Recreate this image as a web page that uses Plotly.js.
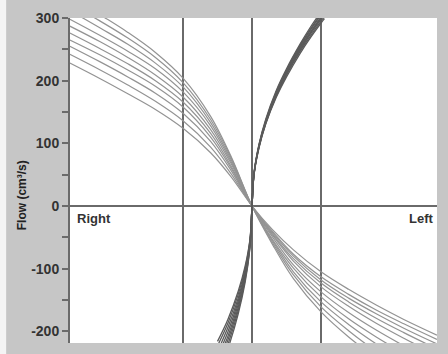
<!DOCTYPE html>
<html>
<head>
<meta charset="utf-8">
<script src="https://cdn.plot.ly/plotly-3.0.1.min.js"></script>
<style>html,body{margin:0;padding:0;background:#fff;}#chart{width:448px;height:354px;}</style>
</head>
<body>
<div id="chart"></div>
<script>
// Pressure axis samples (arbitrary units, marker lines at -1, 0, 1)
const xDesc = [-2.64, -2.2, -1.8, -1.4, -1, -0.6, -0.3, 0, 0.3, 0.6, 1, 1.4, 1.8, 2.2, 2.68];
const desc0 = [335, 305, 277, 245, 204, 143, 78, 0, -62, -116, -169, -209, -243, -274, -308];
const desc1 = [323, 295, 268, 237, 197, 138, 76, 0, -59, -110, -161, -199, -232, -261, -293];
const desc2 = [312, 284, 258, 228, 190, 133, 73, 0, -56, -105, -153, -189, -220, -248, -279];
const desc3 = [298, 272, 247, 219, 182, 128, 70, 0, -54, -99, -145, -180, -209, -235, -264];
const desc4 = [287, 262, 237, 209, 174, 122, 67, 0, -50, -94, -137, -170, -198, -223, -251];
const desc5 = [276, 251, 227, 200, 166, 116, 63, 0, -47, -88, -129, -160, -187, -211, -238];
const desc6 = [265, 241, 217, 191, 158, 110, 60, 0, -45, -84, -123, -153, -179, -202, -228];
const desc7 = [255, 230, 206, 180, 148, 103, 56, 0, -43, -80, -118, -147, -172, -195, -220];
const desc8 = [242, 217, 193, 167, 136, 94, 51, 0, -41, -77, -113, -141, -166, -188, -213];
const desc9 = [228, 203, 179, 154, 124, 85, 46, 0, -38, -70, -105, -133, -158, -181, -206];

const xAsc = [-0.5, -0.35, -0.2, -0.1, -0.03, 0, 0.03, 0.1, 0.2, 0.35, 0.5, 0.7, 0.85, 1.0, 1.05];
const asc0 = [-216, -181, -136, -96, -53, 0, 51, 92, 131, 173, 206, 244, 269, 292, 299];
const asc1 = [-223, -187, -141, -100, -55, 0, 51, 93, 132, 175, 209, 247, 272, 295, 302];
const asc2 = [-232, -194, -147, -104, -57, 0, 52, 94, 133, 176, 211, 249, 275, 298, 305];
const asc3 = [-240, -201, -152, -107, -59, 0, 52, 95, 134, 178, 212, 251, 277, 300, 308];
const asc4 = [-248, -208, -157, -111, -61, 0, 52, 95, 135, 179, 214, 253, 278, 302, 310];
const asc5 = [-256, -214, -162, -114, -63, 0, 53, 96, 136, 181, 216, 255, 281, 305, 313];
const asc6 = [-264, -221, -167, -118, -65, 0, 53, 97, 137, 182, 217, 257, 283, 307, 315];
const asc7 = [-272, -228, -172, -122, -67, 0, 54, 98, 139, 184, 219, 259, 286, 310, 318];

const yTickVals = [300, 200, 100, 0, -100, -200];
const yTickText = ["300", "200", "100", "0", "-100", "-200"];
const markerX = [-1, 0, 1];

const descSeries = [desc0, desc1, desc2, desc3, desc4, desc5, desc6, desc7, desc8, desc9];
const ascSeries = [asc0, asc1, asc2, asc3, asc4, asc5, asc6, asc7];

const traces = [];
descSeries.forEach(ys => traces.push({
  x: xDesc, y: ys, type: 'scatter', mode: 'lines',
  line: {color: '#939393', width: 1.2, shape: 'spline', smoothing: 1},
  hoverinfo: 'skip', showlegend: false
}));
ascSeries.forEach(ys => traces.push({
  x: xAsc, y: ys, type: 'scatter', mode: 'lines',
  line: {color: '#5a5a5a', width: 1.3, shape: 'spline', smoothing: 1},
  hoverinfo: 'skip', showlegend: false
}));

const layout = {
  width: 448, height: 354,
  margin: {l: 70, r: 11, t: 18, b: 11},
  paper_bgcolor: '#c6c6c6',
  plot_bgcolor: '#ffffff',
  showlegend: false,
  xaxis: {
    range: [-2.638, 2.681],
    tickvals: markerX,
    showticklabels: false,
    ticks: '',
    showgrid: true, gridcolor: '#6a6a6a', gridwidth: 2,
    zeroline: true, zerolinecolor: '#6a6a6a', zerolinewidth: 2,
    showline: false, fixedrange: true
  },
  yaxis: {
    range: [-218.6, 300],
    tickvals: yTickVals, ticktext: yTickText,
    ticks: 'outside', ticklen: 6, tickwidth: 2, tickcolor: '#6a6a6a',
    minor: {dtick: 50, tick0: 0, ticks: 'outside', ticklen: 6, tickwidth: 2, tickcolor: '#6a6a6a', showgrid: false},
    tickfont: {family: 'Liberation Sans, Arial, sans-serif', size: 14, color: '#333333', weight: 'bold'},
    showgrid: false,
    zeroline: true, zerolinecolor: '#6a6a6a', zerolinewidth: 2,
    showline: true, linecolor: '#6a6a6a', linewidth: 2,
    fixedrange: true
  },
  shapes: [
    {type: 'rect', xref: 'paper', yref: 'paper', x0: -0.2, x1: 1.05, y0: -0.034, y1: -0.1, fillcolor: '#f4f4f4', line: {width: 0}, layer: 'below'},
    {type: 'rect', xref: 'paper', yref: 'paper', x0: -0.2, x1: -0.174, y0: -0.1, y1: 1.1, fillcolor: '#f4f4f4', line: {width: 0}, layer: 'below'}
  ],
  annotations: [
    {text: 'Flow (cm³/s)', xref: 'paper', yref: 'y', x: -0.131, y: 17, textangle: -90,
     showarrow: false, xanchor: 'center', yanchor: 'middle',
     font: {family: 'Liberation Sans, Arial, sans-serif', size: 12, color: '#222222', weight: 'bold'}},
    {text: 'Right', xref: 'x', yref: 'y', x: -2.57, y: -5, showarrow: false, xanchor: 'left', yanchor: 'top',
     font: {family: 'Liberation Sans Narrow, Liberation Sans, Arial, sans-serif', size: 13, color: '#333333', weight: 'bold'}},
    {text: 'Left', xref: 'x', yref: 'y', x: 2.66, y: -5, showarrow: false, xanchor: 'right', yanchor: 'top',
     font: {family: 'Liberation Sans Narrow, Liberation Sans, Arial, sans-serif', size: 13, color: '#333333', weight: 'bold'}}
  ]
};

Plotly.newPlot('chart', traces, layout, {displayModeBar: false, staticPlot: true});
</script>
</body>
</html>
